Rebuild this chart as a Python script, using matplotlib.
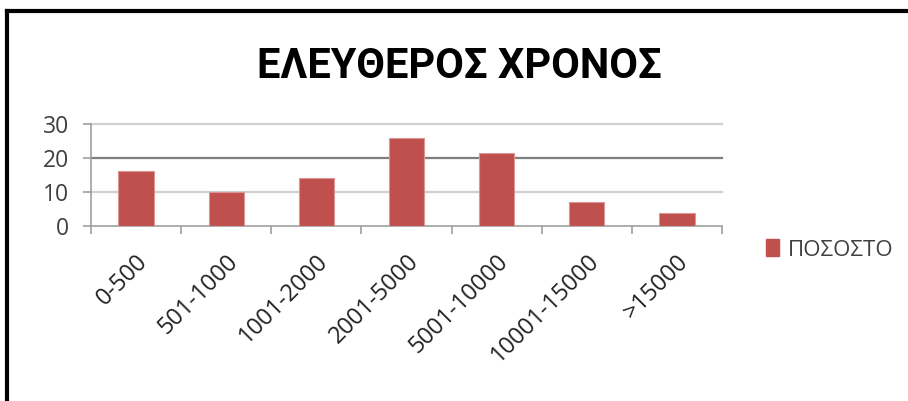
import matplotlib
matplotlib.use("Agg")
import matplotlib.pyplot as plt
import numpy as np
from matplotlib.lines import Line2D
from matplotlib.patches import Patch

categories = ["0-500", "501-1000", "1001-2000", "2001-5000", "5001-10000", "10001-15000", ">15000"]
values = [16.2, 9.9, 14.1, 25.8, 21.6, 7.0, 3.7]
yticks = [0, 10, 20, 30]
title = "ΕΛΕΥΘΕΡΟΣ ΧΡΟΝΟΣ"
series_name = "ΠΟΣΟΣΤΟ"

plt.rcParams['font.family'] = ['Open Sans', 'DejaVu Sans']

fig = plt.figure(figsize=(9.08, 4.01), dpi=100)
ax = fig.add_axes([91/908, 1-226/401, (722-91)/908, (226-124)/401])

x = np.arange(len(categories))
bar_color = "#C0504D"
ax.bar(x, values, width=0.39, color=bar_color, edgecolor="#D99694", linewidth=0.8, zorder=3, label=series_name)

ax.set_xlim(-0.5, len(categories) - 0.5)
ax.set_ylim(0, 30)
ax.set_yticks(yticks)
ax.set_yticklabels([str(v) for v in yticks], fontsize=16.5, color="#404040")
for yv in yticks[1:]:
    ax.axhline(yv, color="#7F7F7F" if yv == 20 else "#D0D0D0", linewidth=1.6, zorder=1, clip_on=False)

ax.set_xticks(np.arange(len(categories) + 1) - 0.5, minor=False)
ax.set_xticklabels([])
ax.set_xticks(x, minor=True)
ax.set_xticklabels(categories, minor=True, rotation=45, ha='right', va='top',
                   rotation_mode='anchor', fontsize=17, color="#222222")
ax.tick_params(axis='x', which='minor', length=0, pad=17)
ax.tick_params(axis='x', which='major', length=6, color="#A0A0A0", width=1.2)
ax.tick_params(axis='y', length=6, color="#A0A0A0", width=1.2, pad=10)

for s in ['top', 'right']:
    ax.spines[s].set_visible(False)
for s in ['left', 'bottom']:
    ax.spines[s].set_color("#A0A0A0")
    ax.spines[s].set_linewidth(1.2)

fig.text(459/908, 1-66/401, title, ha='center', va='center', fontsize=30,
         fontweight='bold', family=['Roboto', 'DejaVu Sans'], color="#000000")

handle = Patch(facecolor=bar_color, edgecolor=bar_color)
fig.legend([handle], [series_name], loc='center left', bbox_to_anchor=(746/908, 1-250/401),
           frameon=False, fontsize=16, handlelength=0.6, handleheight=0.8, handletextpad=0.4,
           labelcolor="#404040")

# outer frame (top and left edges)
fig.add_artist(Line2D([7/908, 7/908], [0, 1-11/401], transform=fig.transFigure, color='black', linewidth=3))
fig.add_artist(Line2D([7/908, 1], [1-11/401, 1-11/401], transform=fig.transFigure, color='black', linewidth=3))

fig.savefig("out.png", dpi=100)
